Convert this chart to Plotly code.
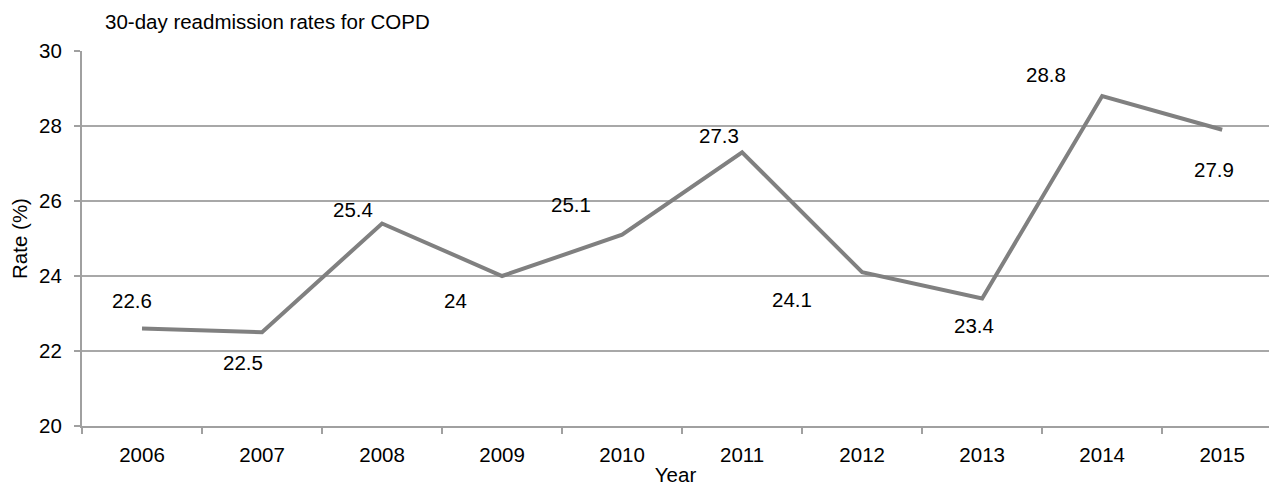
import plotly.graph_objects as go

years = ["2006", "2007", "2008", "2009", "2010", "2011", "2012", "2013", "2014", "2015"]
rates = [22.6, 22.5, 25.4, 24.0, 25.1, 27.3, 24.1, 23.4, 28.8, 27.9]
labels = ["22.6", "22.5", "25.4", "24", "25.1", "27.3", "24.1", "23.4", "28.8", "27.9"]
y_ticks = [20, 22, 24, 26, 28, 30]

# label offsets in pixels (style): (dx, dy) with dy positive = up
label_offsets = [(-10, 28), (-19, -30), (-29, 14), (-47, -24), (-51, 30),
                 (-23, 17), (-70, -27), (-8, -27), (-56, 22), (-8, -40)]

FONT = "Liberation Sans, Arial, sans-serif"
FS = 20.5

fig = go.Figure()
fig.add_trace(go.Scatter(
    x=years, y=rates, mode="lines",
    line=dict(color="#808080", width=4),
    showlegend=False, hoverinfo="skip",
))

for i, (v, t, (dx, dy)) in enumerate(zip(rates, labels, label_offsets)):
    # category axis: annotation x is the category's index
    fig.add_annotation(x=i, y=v, text=t, showarrow=False,
                       xshift=dx, yshift=dy,
                       font=dict(family=FONT, size=FS, color="#000000"))

fig.update_layout(
    width=1269, height=491,
    margin=dict(l=82, r=0, t=51, b=65),
    paper_bgcolor="white", plot_bgcolor="white",
    font=dict(family=FONT, size=FS, color="#000000"),
    title=dict(text="30-day readmission rates for COPD", xref="container", yref="container",
               x=105 / 1269, xanchor="left", y=1 - 22 / 491, yanchor="middle",
               font=dict(family=FONT, size=FS, color="#000000")),
)

fig.update_xaxes(
    type="category", categoryorder="array", categoryarray=years,
    range=[-0.5, 9.39],
    showgrid=False, showline=True, linecolor="#a0a0a0", linewidth=2,
    ticks="outside", tickson="boundaries", ticklen=6, tickcolor="#a0a0a0", tickwidth=2,
    ticklabelstandoff=9,
    tickfont=dict(family=FONT, size=FS, color="#000000"),
    title=dict(text="Year", standoff=3, font=dict(family=FONT, size=FS, color="#000000")),
    zeroline=False, fixedrange=True,
)
fig.update_yaxes(
    range=[20, 30], tickvals=y_ticks,
    showgrid=True, gridcolor="#a8a8a8", gridwidth=2,
    showline=True, linecolor="#a0a0a0", linewidth=2,
    ticks="outside", ticklen=6, tickcolor="#a0a0a0", tickwidth=2,
    ticklabelstandoff=8,
    tickfont=dict(family=FONT, size=FS, color="#000000"),
    title=dict(text="Rate (%)", standoff=6, font=dict(family=FONT, size=FS, color="#000000")),
    zeroline=False, fixedrange=True,
)

fig.write_html("out.html", config={"displayModeBar": False},
               post_script="document.body.style.margin='0';document.body.style.overflow='hidden';")
